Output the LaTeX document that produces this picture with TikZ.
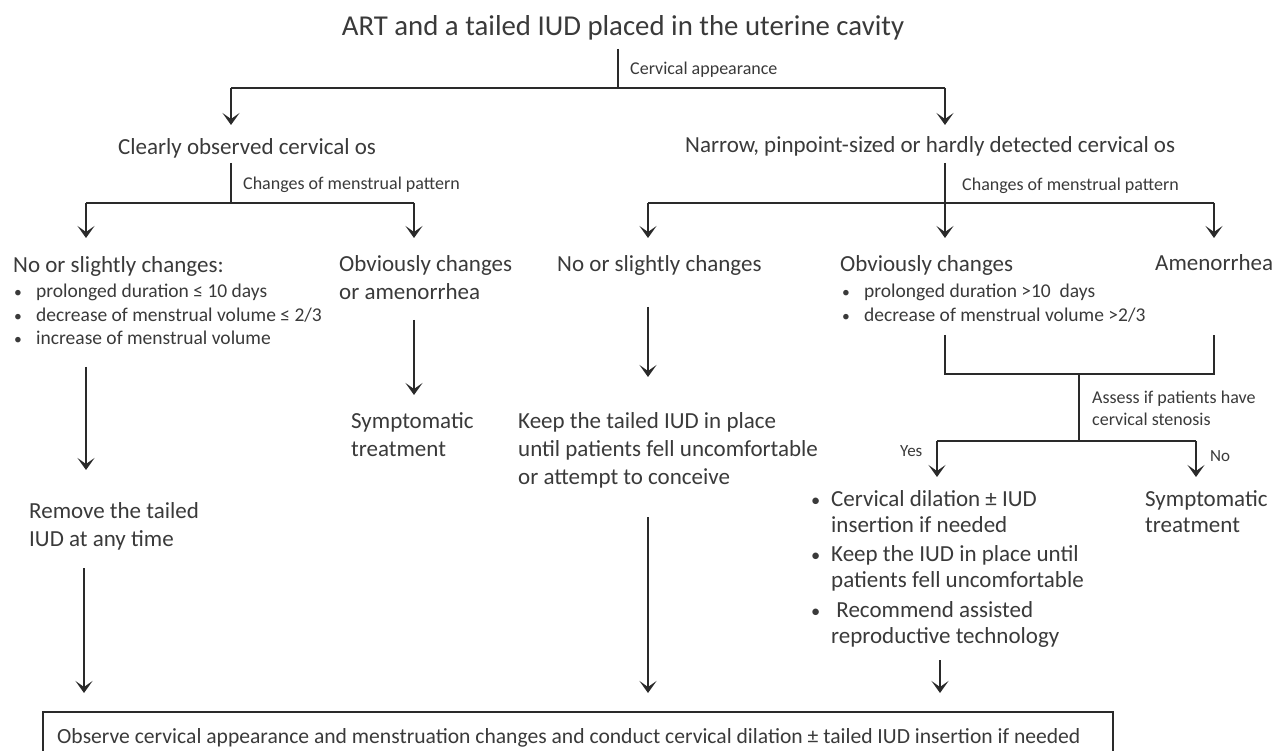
\documentclass[tikz,border=0pt]{standalone}
\usepackage{fontspec}
\setmainfont{Carlito}
\usetikzlibrary{arrows.meta}
\definecolor{ln}{HTML}{2A2A2A}
\definecolor{tx}{HTML}{3A3A3A}
\tikzset{
  every node/.style={inner sep=0pt, text=tx},
  big/.style={font=\fontsize{28.8}{34}\selectfont},
  med/.style={font=\fontsize{23}{28}\selectfont},
  lab/.style={font=\fontsize{18}{22}\selectfont},
  bul/.style={font=\fontsize{19.5}{23.5}\selectfont},
  yn/.style={font=\fontsize{17}{20}\selectfont},
  conn/.style={draw=ln, line width=1.6pt},
  arr/.style={conn, -{Stealth[length=12pt,width=17pt,inset=6pt]}},
}
\newcommand{\bl}{\makebox[22pt][l]{\scalebox{0.8}{•}}}
\newcommand{\blr}{\makebox[20pt][l]{\scalebox{0.8}{•}}}
\newcommand{\blsp}{\hspace*{20pt}}
\begin{document}
\begin{tikzpicture}[x=1pt,y=-1pt]
\useasboundingbox (0,0) rectangle (1278,751);
\clip (0,0) rectangle (1278,751);
\fill[white] (0,0) rectangle (1278,751);

% nodes
\node[big] (title) at (623,28) {ART and a tailed IUD placed in the uterine cavity};
\node[lab, anchor=west] (lca) at (630,70) {Cervical appearance};
\node[med, anchor=west] (clear) at (118,148) {Clearly observed cervical os};
\node[med, anchor=west] (narrow) at (685,146) {Narrow, pinpoint-sized or hardly detected cervical os};
\node[lab, anchor=west] (lcl) at (243,185) {Changes of menstrual pattern};
\node[lab, anchor=west] (lcr) at (962,186) {Changes of menstrual pattern};

\node[med, anchor=west] (nol) at (13,266) {No or slightly changes:};
\node[bul, anchor=north west, align=left] (bull) at (14,284)
  {\bl prolonged duration ≤ 10 days\\ \bl decrease of menstrual volume ≤ 2/3\\ \bl increase of menstrual volume};
\node[med, anchor=north west, align=left] (obvl) at (339,255) {Obviously changes\\or amenorrhea};
\node[med, anchor=north west, align=left] (syml) at (351,412) {Symptomatic\\treatment};
\node[med, anchor=north west, align=left] (remove) at (29,502) {Remove the tailed\\IUD at any time};

\node[med, anchor=west] (nom) at (557,265) {No or slightly changes};
\node[med, anchor=north west, align=left] (keep) at (518,412)
  {Keep the tailed IUD in place\\until patients fell uncomfortable\\or attempt to conceive};

\node[med, anchor=west] (obvr) at (840,265) {Obviously changes};
\node[bul, anchor=north west, align=left] (bulr) at (842,284)
  {\bl prolonged duration >10\ \ days\\ \bl decrease of menstrual volume >2/3};
\node[med, anchor=west] (amen) at (1155,263) {Amenorrhea};
\node[lab, anchor=north west, align=left] (lass) at (1092,391) {Assess if patients have\\cervical stenosis};
\node[yn, anchor=west] (yes) at (900,451) {Yes};
\node[yn, anchor=west] (no) at (1210,456) {No};

\node[med, anchor=north west, align=left, font=\fontsize{23}{26}\selectfont] (yesb) at (811,490)
  {\blr Cervical dilation ± IUD\\ \blsp insertion if needed\\[3.5pt]
   \blr Keep the IUD in place until\\ \blsp patients fell uncomfortable\\[3.5pt]
   \blr \ Recommend assisted\\ \blsp reproductive technology};
\node[med, anchor=north west, align=left, font=\fontsize{23}{26}\selectfont] (symr) at (1145,490) {Symptomatic\\treatment};

\draw[conn] (43,712) rectangle (1113,760);
\node[anchor=west, font=\fontsize{21.6}{26}\selectfont] (obs) at (57,738) {Observe cervical appearance and menstruation changes and conduct cervical dilation ± tailed IUD insertion if needed};

% coordinates
\coordinate (a0) at (618,49);
\coordinate (a1) at (618,88);
\coordinate (aL) at (231,88);
\coordinate (aR) at (945,88);
\coordinate (aLt) at (231,125);
\coordinate (aRt) at (945,125);

\coordinate (b0) at (231,163);
\coordinate (b1) at (231,203);
\coordinate (bL) at (86,203);
\coordinate (bR) at (414,203);
\coordinate (bLt) at (86,238);
\coordinate (bRt) at (414,238);

\coordinate (c0) at (945,163);
\coordinate (c1) at (945,203);
\coordinate (cL) at (648,203);
\coordinate (cR) at (1214,203);
\coordinate (cMt) at (945,238);
\coordinate (cLt) at (648,238);
\coordinate (cRt) at (1214,238);

\coordinate (d1s) at (86,367);  \coordinate (d1t) at (86,470);
\coordinate (d2s) at (414,320); \coordinate (d2t) at (414,395);
\coordinate (d3s) at (648,307); \coordinate (d3t) at (648,377);

\coordinate (e1) at (945,335); \coordinate (e1b) at (945,374);
\coordinate (e2) at (1214,335); \coordinate (e2b) at (1214,374);
\coordinate (e0) at (1079,374); \coordinate (e0b) at (1079,441);
\coordinate (eY) at (937,441); \coordinate (eN) at (1196,441);
\coordinate (eYt) at (937,477); \coordinate (eNt) at (1196,477);

\coordinate (f1s) at (84,568);  \coordinate (f1t) at (84,693);
\coordinate (f2s) at (648,517); \coordinate (f2t) at (648,693);
\coordinate (f3s) at (940,660); \coordinate (f3t) at (940,693);

% connectors
\draw[conn] (a0) -- (a1);
\draw[arr] (aL) -- (aLt);
\draw[arr] (aR) -- (aRt);
\draw[conn] (aL) -- (aR);

\draw[conn] (b0) -- (b1);
\draw[conn] (bL) -- (bR);
\draw[arr] (bL) -- (bLt);
\draw[arr] (bR) -- (bRt);

\draw[arr] (c0) -- (cMt);
\draw[conn] (cL) -- (cR);
\draw[arr] (cL) -- (cLt);
\draw[arr] (cR) -- (cRt);

\draw[arr] (d1s) -- (d1t);
\draw[arr] (d2s) -- (d2t);
\draw[arr] (d3s) -- (d3t);

\draw[conn] (e1) -- (e1b) -- (e2b) -- (e2);
\draw[conn] (e0) -- (e0b);
\draw[conn] (eY) -- (eN);
\draw[arr] (eY) -- (eYt);
\draw[arr] (eN) -- (eNt);

\draw[arr] (f1s) -- (f1t);
\draw[arr] (f2s) -- (f2t);
\draw[arr] (f3s) -- (f3t);
\end{tikzpicture}
\end{document}
